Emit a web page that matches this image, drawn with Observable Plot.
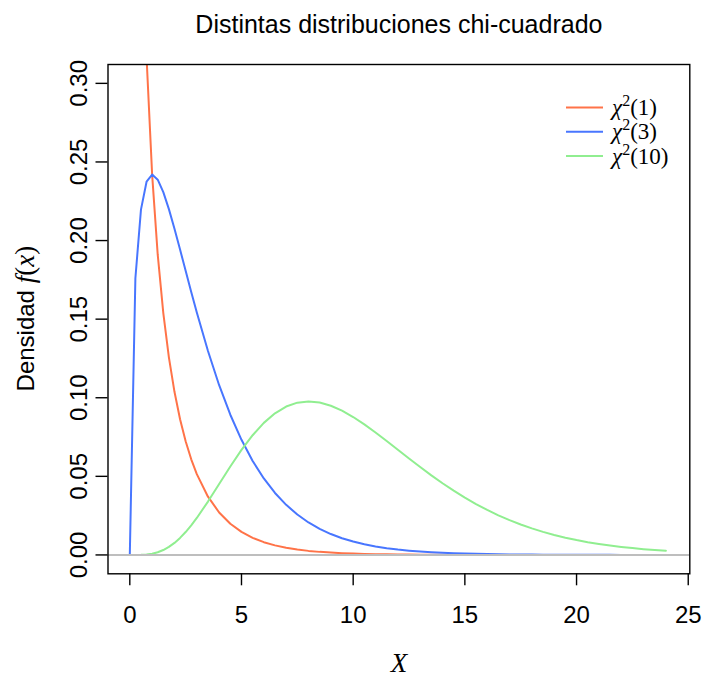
<!DOCTYPE html>
<html>
<head>
<meta charset="utf-8">
<script src="https://cdn.jsdelivr.net/npm/d3@7"></script>
<script src="https://cdn.jsdelivr.net/npm/@observablehq/plot@0.6"></script>
<style>
  body { margin: 0; background: #ffffff; }
  #chart { width: 705px; height: 679px; }
</style>
</head>
<body>
<div id="chart"></div>
<script>
// ---- Data ----
const xs = [0, 0.25, 0.5, 0.75, 1, 1.25, 1.5, 1.75, 2, 2.25, 2.5, 2.75, 3,
  3.5, 4, 4.5, 5, 5.5, 6, 6.5, 7, 7.5, 8, 8.5, 9, 9.5, 10, 10.5, 11, 11.5, 12,
  12.5, 13, 13.5, 14, 14.5, 15, 15.5, 16, 16.5, 17, 17.5, 18, 18.5, 19, 19.5, 20,
  20.5, 21, 21.5, 22, 22.5, 23, 23.5, 24];

const chi1 = [null, 0.70413, 0.43939, 0.31660, 0.24197, 0.19100, 0.15387, 0.12571, 0.10378, 0.08635, 0.07229, 0.06083, 0.05139,
  0.03706, 0.02700, 0.01982, 0.01465, 0.01088, 0.00811, 0.00607, 0.00455, 0.00343, 0.00258,
  0.00195, 0.00148, 0.00112, 0.00085, 0.00065, 0.00049, 0.00037, 0.00029, 0.00022, 0.00017,
  0.00013, 0.00010, 0.00007, 0.00006, 0.00004, 0.00003, 0.00003, 0.00002, 0.00002, 0.00001,
  0.00001, 0.00001, 0.00001, 0, 0, 0, 0, 0, 0, 0,
  0, 0];

const chi3 = [0, 0.17603, 0.21970, 0.23745, 0.24197, 0.23875, 0.23081, 0.21999, 0.20756, 0.19428, 0.18072, 0.16727, 0.15418,
  0.12970, 0.10798, 0.08920, 0.07323, 0.05981, 0.04865, 0.03944, 0.03187, 0.02570, 0.02066,
  0.01659, 0.01329, 0.01064, 0.00850, 0.00678, 0.00541, 0.00430, 0.00343, 0.00272, 0.00216,
  0.00171, 0.00136, 0.00108, 0.00086, 0.00068, 0.00053, 0.00042, 0.00033, 0.00026, 0.00021,
  0.00016, 0.00013, 0.00010, 0.00008, 0.00006, 0.00005, 0.00004, 0.00003, 0.00002, 0.00002,
  0.00001, 0.00001];

const chi10 = [0, 0.0000045, 0.0000634, 0.000283, 0.000790, 0.001702, 0.003114, 0.005091, 0.007664, 0.010834, 0.014572, 0.018828, 0.023533,
  0.033954, 0.045112, 0.056276, 0.066801, 0.076170, 0.084016, 0.090122, 0.094405, 0.096891, 0.097685,
  0.096952, 0.094904, 0.091759, 0.087734, 0.083060, 0.077914, 0.072488, 0.066933, 0.061369, 0.055910,
  0.050640, 0.045613, 0.040876, 0.036458, 0.032373, 0.028626, 0.025214, 0.022128, 0.019351, 0.016869,
  0.014659, 0.012702, 0.010975, 0.009458, 0.008131, 0.006973, 0.005966, 0.005094, 0.004341, 0.003691,
  0.003133, 0.002654];

const seriesKeys = ["1", "3", "10"];
const seriesColors = ["#FF7348", "#4876FF", "#90EE90"];
const xTicks = [0, 5, 10, 15, 20, 25];
const yTicks = [0, 0.05, 0.10, 0.15, 0.20, 0.25, 0.30];
const titleText = "Distintas distribuciones chi-cuadrado";
const xLabel = "X";
const yLabelWord = "Densidad";

// ---- Build table ----
const rows = [];
[chi1, chi3, chi10].forEach((vals, i) => {
  xs.forEach((x, j) => {
    if (vals[j] != null) rows.push({x, y: vals[j], s: seriesKeys[i]});
  });
});

const sans = "'Liberation Sans', Arial, Helvetica, sans-serif";
const serif = "'Liberation Serif', 'Times New Roman', serif";

const W = 705, H = 679;
const mL = 107.5, mR = 15.7, mT = 64, mB = 105.7;
const fs = 24;

const plot = Plot.plot({
  width: W,
  height: H,
  marginLeft: mL,
  marginRight: mR,
  marginTop: mT,
  marginBottom: mB,
  style: {fontFamily: sans, fontSize: fs + "px", background: "#ffffff", color: "#000000", overflow: "visible"},
  x: {domain: [-0.976, 25.07], label: null},
  y: {domain: [-0.012, 0.312], label: null},
  color: {domain: seriesKeys, range: seriesColors},
  marks: [
    Plot.line(rows, {x: "x", y: "y", z: "s", stroke: "s", strokeWidth: 2, clip: true}),
    Plot.ruleY([0], {stroke: "#BEBEBE", strokeWidth: 2}),
    Plot.frame({stroke: "#000000", strokeWidth: 1.4}),
    Plot.axisX({ticks: xTicks, tickSize: 12, tickPadding: 20.5, fontSize: fs, strokeWidth: 1.4, tickFormat: d => String(d), label: null}),
    Plot.axisY({ticks: yTicks, tickSize: 12, tickPadding: 9.5, tickRotate: -90, fontSize: fs, strokeWidth: 1.4, tickFormat: d3.format(".2f"), label: null}),
    Plot.text([titleText], {frameAnchor: "top", dy: -32, lineAnchor: "bottom", fontSize: 25, fill: "#000000"}),
    Plot.text([xLabel], {frameAnchor: "bottom", dy: 90, lineAnchor: "middle", fontSize: 27, fontStyle: "italic", fontFamily: serif, fill: "#000000"})
  ]
});

document.getElementById("chart").appendChild(plot);

// ---- Y axis title with mixed styles ----
const svg = d3.select(plot);
const yCenter = mT + (H - mT - mB) / 2;
const yl = svg.append("text")
  .attr("transform", `translate(34,${yCenter}) rotate(-90)`)
  .attr("text-anchor", "middle")
  .attr("font-size", fs)
  .attr("fill", "#000000");
yl.append("tspan").attr("font-family", sans).text(yLabelWord + " ");
yl.append("tspan").attr("font-family", serif).attr("font-style", "italic").attr("font-size", 27).text("f");
yl.append("tspan").attr("font-family", serif).attr("font-size", 27).text("(");
yl.append("tspan").attr("font-family", serif).attr("font-style", "italic").attr("font-size", 27).text("x");
yl.append("tspan").attr("font-family", serif).attr("font-size", 27).text(")");

// ---- Legend ----
const lg = svg.append("g").attr("class", "legend").attr("text-anchor", "start");
seriesKeys.forEach((k, i) => {
  const ly = 107.6 + i * 24.2;
  lg.append("line")
    .attr("x1", 566).attr("x2", 603)
    .attr("y1", ly).attr("y2", ly)
    .attr("stroke", seriesColors[i]).attr("stroke-width", 2);
  const t = lg.append("text")
    .attr("x", 612).attr("y", ly).attr("dy", "0.33em")
    .attr("text-anchor", "start")
    .attr("font-family", serif).attr("font-size", 23).attr("fill", "#000000");
  t.append("tspan").attr("font-style", "italic").text("χ");
  t.append("tspan").attr("font-size", 16).attr("dy", "-9").text("2");
  t.append("tspan").attr("dy", "9").text("(" + k + ")");
});
</script>
</body>
</html>
